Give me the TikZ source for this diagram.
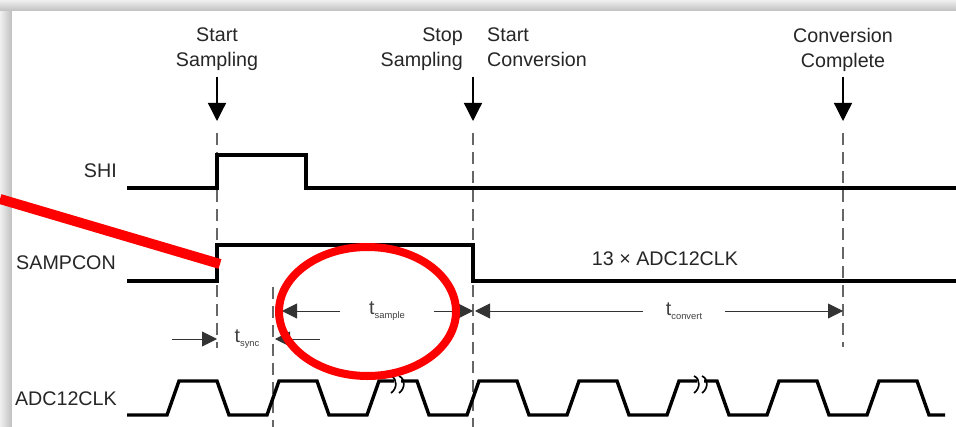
\documentclass[tikz,border=0pt]{standalone}
\usepackage{fontspec}
\setmainfont{Liberation Sans}
\usetikzlibrary{arrows.meta,positioning}

\newcommand{\tsub}[1]{{\fontsize{8pt}{8pt}\selectfont\raisebox{-3pt}{#1}}}

\begin{document}
\begin{tikzpicture}[x=0.03cm,y=-0.03cm,
	sig/.style={line width=2.9pt,line join=miter},
	guide/.style={dash pattern=on 0.36cm off 0.21cm,line width=1.2pt,black!60},
	evt/.style={line width=1.1pt,-{Triangle[length=0.54cm,width=0.54cm]}},
	dim/.style={line width=0.8pt,black!80,-{Triangle[length=0.45cm,width=0.45cm]}},
	txt/.style={inner sep=0pt,text=black!85,font=\fontsize{16.8pt}{21.3pt}\selectfont},
	evt label/.style={txt,anchor=north,align=center},
	sub label/.style={txt,text=black!75},
	redpen/.style={red,line width=#1},redpen/.default=0.3cm]
	\useasboundingbox (0,0) rectangle (956,427);
	\fill[gray!30] (0,0) rectangle (956,427);
	\shade[left color=gray!12,right color=gray!50] (0,0) rectangle (12,427);
	\shade[top color=gray!12,bottom color=gray!50] (0,0) rectangle (956,11);
	\fill[white] (12,11) rectangle (956,427);
	
	\foreach \n/\x in {ss/217,sc/473,cc/843} {
		\coordinate (\n-a) at (\x,77);
		\coordinate (\n) at (\x,121);
		\draw[evt] (\n-a) -- (\n);
	}
	\node[evt label] (l-ss) at (217,28) {Start\\Sampling};
	\node[evt label,anchor=north east,align=right] (l-sp) at (463,28) {Stop\\Sampling};
	\node[evt label,anchor=north west,align=left] (l-sc) at (487,28) {Start\\Conversion};
	\node[evt label] (l-cc) at (843,28) {Conversion\\Complete};
	
	\coordinate (g1) at (217,133); \coordinate (g1e) at (217,348);
	\coordinate (g2) at (273,287); \coordinate (g2e) at (273,427);
	\coordinate (g3) at (473,133); \coordinate (g3e) at (473,427);
	\coordinate (g4) at (843,133); \coordinate (g4e) at (843,347);
	\draw[guide] (g1) -- (g1e);
	\draw[guide] (g2) -- (g2e);
	\draw[guide] (g3) -- (g3e);
	\draw[guide] (g4) -- (g4e);
	
	\node[txt,anchor=base east] (shi) at (117,178) {SHI};
	\node[txt,anchor=base east] (sampcon) at (116,270) {SAMPCON};
	\node[txt,anchor=base east] (adcclk) at (117,405) {ADC12CLK};
	\node[txt,anchor=base] (n13) at (665,265) {13 × ADC12CLK};
	
	\draw[sig] (127,188) -- (217,188) -- (217,155) -- (306,155) -- (306,188) -- (956,188);
	\draw[sig] (127,281) -- (217,281) -- (217,245) -- (473,245) -- (473,281) -- (956,281);
	\draw[sig] (127,415) foreach \k in {0,...,7} {
		-- ({167+100*\k},415) -- ({179+100*\k},381) -- ({217+100*\k},381) -- ({229+100*\k},415)
	} -- (945,415);
	\foreach \sx in {393,696} {
		\fill[white] (\sx+1,376) rectangle (\sx+8,387);
		\draw[line width=1.4pt] (\sx-2,376) .. controls (\sx+5,379) and (\sx+4,389) .. (\sx-2,393);
		\draw[line width=1.4pt] (\sx+6,376) .. controls (\sx+13,379) and (\sx+12,389) .. (\sx+6,393);
	}
	
	\node[sub label,minimum width=2.79cm] (tsa) at (387,311) {t\tsub{sample}};
	\node[sub label,minimum width=2.46cm] (tcv) at (684,311) {t\tsub{convert}};
	\node[sub label] (tsy) at (247,339) {t\tsub{sync}};
	\coordinate (sa-l) at (282,311); \coordinate (sa-r) at (473,311);
	\coordinate (cv-l) at (475,311); \coordinate (cv-r) at (843,311);
	\coordinate (sy-a) at (172,339); \coordinate (sy-l) at (217,339);
	\coordinate (sy-b) at (320,339); \coordinate (sy-r) at (275,339);
	\draw[dim] (tsa) -- (sa-l);
	\draw[dim] (tsa) -- (sa-r);
	\draw[dim] (tcv) -- (cv-l);
	\draw[dim] (tcv) -- (cv-r);
	\draw[dim] (sy-a) -- (sy-l);
	\draw[dim] (sy-b) -- (sy-r);
	
	\coordinate (p0) at (0,199); \coordinate (p1) at (220,264);
	\draw[redpen] (p0) -- (p1);
	\draw[redpen=0.24cm] (367.5,311.5) ellipse [x radius=2.655cm,y radius=1.935cm];
\end{tikzpicture}
\end{document}
